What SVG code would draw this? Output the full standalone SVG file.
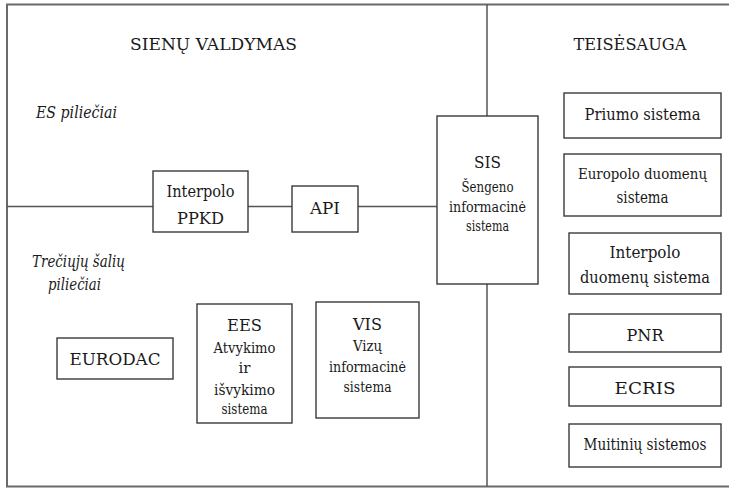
<svg xmlns="http://www.w3.org/2000/svg" width="729" height="488" viewBox="0 0 729 488" font-family="DejaVu Serif, serif">
<style>
  .frame{fill:none;stroke:#6a6a6a;stroke-width:2}
  .box{fill:#fff;stroke:#3a3a3a;stroke-width:1.4}
  .line{fill:none;stroke:#555;stroke-width:1.5}
  text{fill:#1a1a1a;text-anchor:middle}
  .h{font-size:17.5px}
  .t{font-size:17px}
  .s{font-size:15px}
  .m{font-size:16px}
  .i{font-size:16px;font-style:italic;text-anchor:start}
</style>
<rect width="729" height="488" fill="#fff"/>
<g id="frame">
  <polyline class="frame" points="729,4.5 7,4.5 7,486.5 729,486.5"/>
</g>
<g id="connectors">
  <line class="line" x1="487" y1="4.5" x2="487" y2="116"/>
  <line class="line" x1="487" y1="284" x2="487" y2="486.5"/>
  <line class="line" x1="7" y1="206.5" x2="153" y2="206.5"/>
  <line class="line" x1="248" y1="206.5" x2="292" y2="206.5"/>
  <line class="line" x1="358" y1="206.5" x2="437" y2="206.5"/>
</g>
<g id="labels">
  <text class="h" x="213.5" y="50" textLength="167" lengthAdjust="spacingAndGlyphs">SIENŲ VALDYMAS</text>
  <text class="h" x="630" y="50" textLength="113" lengthAdjust="spacingAndGlyphs">TEISĖSAUGA</text>
  <text class="i" x="36" y="118" textLength="81" lengthAdjust="spacingAndGlyphs">ES piliečiai</text>
  <text class="i" x="32" y="267" textLength="93" lengthAdjust="spacingAndGlyphs">Trečiųjų šalių</text>
  <text class="i" x="48" y="290" textLength="53" lengthAdjust="spacingAndGlyphs">piliečiai</text>
</g>
<g id="interpolo-ppkd">
  <rect class="box" x="153" y="171" width="95" height="61"/>
  <text class="t" x="200.5" y="197" textLength="68" lengthAdjust="spacingAndGlyphs">Interpolo</text>
  <text class="t" x="200.5" y="224" textLength="47" lengthAdjust="spacingAndGlyphs">PPKD</text>
</g>
<g id="api">
  <rect class="box" x="292" y="186" width="66" height="46"/>
  <text class="t" x="325" y="214" textLength="30" lengthAdjust="spacingAndGlyphs">API</text>
</g>
<g id="sis">
  <rect class="box" x="437" y="116" width="101" height="168"/>
  <text class="h" x="487.5" y="168" textLength="27" lengthAdjust="spacingAndGlyphs">SIS</text>
  <text class="s" x="487.5" y="192" textLength="52" lengthAdjust="spacingAndGlyphs">Šengeno</text>
  <text class="s" x="487.5" y="212" textLength="77" lengthAdjust="spacingAndGlyphs">informacinė</text>
  <text class="s" x="487.5" y="231" textLength="43" lengthAdjust="spacingAndGlyphs">sistema</text>
</g>
<g id="eurodac">
  <rect class="box" x="57" y="338" width="116" height="41"/>
  <text class="h" x="115" y="365" textLength="91" lengthAdjust="spacingAndGlyphs">EURODAC</text>
</g>
<g id="ees">
  <rect class="box" x="197" y="304" width="95" height="119"/>
  <text class="h" x="244.5" y="331" textLength="35" lengthAdjust="spacingAndGlyphs">EES</text>
  <text class="s" x="244.5" y="353" textLength="62" lengthAdjust="spacingAndGlyphs">Atvykimo</text>
  <text class="s" x="244.5" y="373">ir</text>
  <text class="s" x="244.5" y="395" textLength="61" lengthAdjust="spacingAndGlyphs">išvykimo</text>
  <text class="s" x="244.5" y="414" textLength="46" lengthAdjust="spacingAndGlyphs">sistema</text>
</g>
<g id="vis">
  <rect class="box" x="316" y="302" width="103" height="116"/>
  <text class="h" x="367.5" y="330" textLength="29" lengthAdjust="spacingAndGlyphs">VIS</text>
  <text class="s" x="367.5" y="351" textLength="29" lengthAdjust="spacingAndGlyphs">Vizų</text>
  <text class="s" x="367.5" y="372" textLength="77" lengthAdjust="spacingAndGlyphs">informacinė</text>
  <text class="s" x="367.5" y="392" textLength="48" lengthAdjust="spacingAndGlyphs">sistema</text>
</g>
<g id="priumo">
  <rect class="box" x="564" y="93" width="157" height="45"/>
  <text class="t" x="642.5" y="120" textLength="116" lengthAdjust="spacingAndGlyphs">Priumo sistema</text>
</g>
<g id="europolo">
  <rect class="box" x="564" y="154" width="157" height="62"/>
  <text class="m" x="642.5" y="179" textLength="129" lengthAdjust="spacingAndGlyphs" style="font-size:15.5px">Europolo duomenų</text>
  <text class="m" x="642.5" y="203" textLength="52" lengthAdjust="spacingAndGlyphs">sistema</text>
</g>
<g id="interpolo-duomenu">
  <rect class="box" x="569" y="233" width="152" height="61"/>
  <text class="m" x="645" y="258" textLength="71" lengthAdjust="spacingAndGlyphs">Interpolo</text>
  <text class="m" x="645" y="283" textLength="130" lengthAdjust="spacingAndGlyphs">duomenų sistema</text>
</g>
<g id="pnr">
  <rect class="box" x="569" y="314" width="152" height="38"/>
  <text class="h" x="645" y="341" textLength="37" lengthAdjust="spacingAndGlyphs">PNR</text>
</g>
<g id="ecris">
  <rect class="box" x="569" y="367" width="152" height="39"/>
  <text class="h" x="645" y="394" textLength="61" lengthAdjust="spacingAndGlyphs">ECRIS</text>
</g>
<g id="muitiniu">
  <rect class="box" x="569" y="424" width="152" height="43"/>
  <text class="m" x="645" y="450" textLength="123" lengthAdjust="spacingAndGlyphs">Muitinių sistemos</text>
</g>
</svg>
